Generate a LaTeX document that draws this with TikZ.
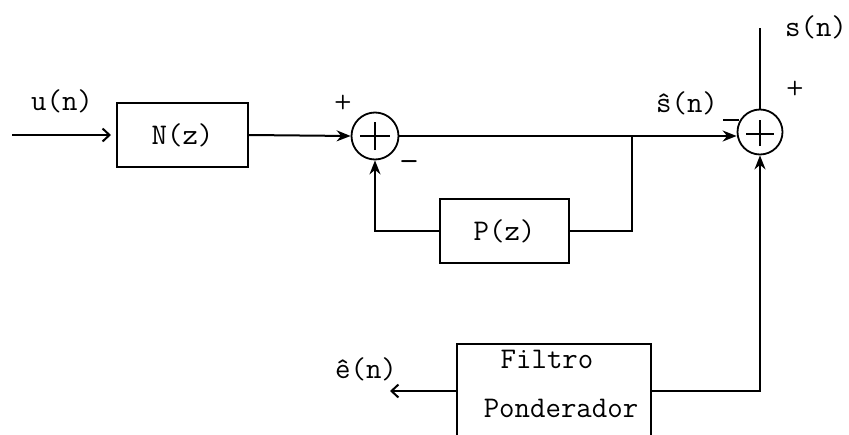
\documentclass[tikz,border=0pt]{standalone}
\usepackage{fontspec}
\usetikzlibrary{arrows.meta}
\tikzset{
  txt/.style={font=\fontsize{30}{34}\selectfont\ttfamily, inner sep=0pt},
  sgn/.style={font=\fontsize{20}{22}\selectfont\sffamily\bfseries, inner sep=0pt},
  blk/.style={draw, line width=2pt, rectangle, inner sep=0pt, font=\fontsize{30}{34}\selectfont\ttfamily},
  sumc/.style={draw, line width=1.8pt, circle, minimum size=47pt, inner sep=0pt},
  ln/.style={line width=2pt},
  fa/.style={ln, -{Stealth[length=14pt,width=11pt]}},
  oa/.style={ln, -{Straight Barb[length=7pt,width=13pt]}},
  crs/.style={line width=1.5pt}
}
\begin{document}
\begin{tikzpicture}[x=1pt,y=-1pt]
\useasboundingbox (0,0) rectangle (849,434);
% blocks
\node[blk, minimum width=131pt, minimum height=64pt] (N) at (182.5,135) {N(z)};
\node[blk, minimum width=129pt, minimum height=64pt] (P) at (504.5,231) {P(z)};
\node[blk, minimum width=194pt, minimum height=94pt] (F) at (554,391) {};
\node[txt] (Ft1) at (547,359) {Filtro};
\node[txt] (Ft2) at (561,408) {Ponderador};
% summing junctions
\node[sumc] (s1) at (375,136) {};
\node[sumc, minimum size=45pt] (s2) at (760,132) {};
\draw[crs] ([xshift=-15pt]s1.center) -- ([xshift=15pt]s1.center);
\draw[crs] ([yshift=-14pt]s1.center) -- ([yshift=14pt]s1.center);
\draw[crs] ([xshift=-14pt,yshift=-2pt]s2.center) -- ([xshift=14pt,yshift=-2pt]s2.center);
\draw[crs] ([yshift=-14pt]s2.center) -- ([yshift=12pt]s2.center);
% coordinates
\coordinate (uin) at (12,135);
\coordinate (br) at (632,136);
\coordinate (stop) at (760,28);
\coordinate (eout) at (390,391);
\coordinate (tk1) at (723,120);
\coordinate (tk2) at (739,120);
% connectors
\draw[oa, shorten >=5pt] (uin) -- (N.west);
\draw[fa] (N.east) -- (s1.west);
\draw[fa] (s1.east) -- (s1.east -| s2.west);
\draw[ln] (br) |- (P.east);
\draw[fa] (P.west) -| (s1.south);
\draw[ln] (stop) -- (s2.north);
\draw[fa] (F.east) -| (s2.south);
\draw[oa] (F.west) -- (eout);
\draw[line width=1.5pt] (tk1) -- (tk2);
% labels
\node[txt] (lu) at (62,101) {u(n)};
\node[sgn] (p1) at (343,102) {+};
\node[sgn, font=\fontsize{28}{30}\selectfont\sffamily\bfseries] (m1) at (409,165) {–};
\node[txt, anchor=base] (ls) at (687,112) {ŝ(n)};
\node[txt] (lsn) at (816,27) {s(n)};
\node[sgn] (p2) at (795,88) {+};
\node[txt, anchor=base] (le) at (366,378) {ê(n)};
\end{tikzpicture}
\end{document}
